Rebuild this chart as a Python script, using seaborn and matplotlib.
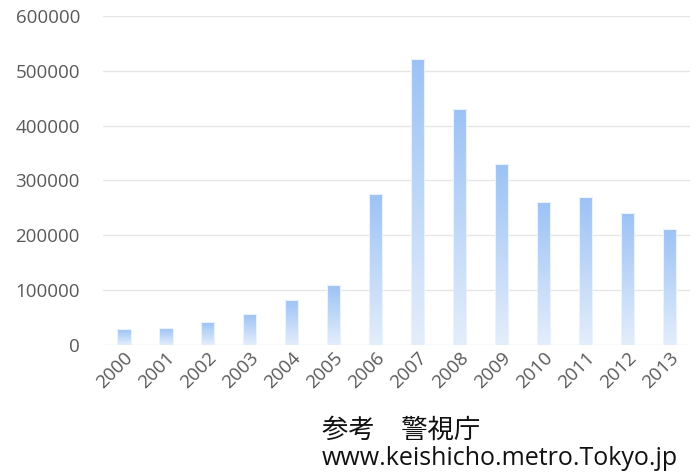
import numpy as np
import pandas as pd
import matplotlib
matplotlib.use("Agg")
import matplotlib.pyplot as plt
import seaborn as sns
from matplotlib.colors import LinearSegmentedColormap

years = ["2000", "2001", "2002", "2003", "2004", "2005", "2006",
         "2007", "2008", "2009", "2010", "2011", "2012", "2013"]
values = [29000, 31000, 41000, 56000, 82500, 109000, 276000,
          521000, 430000, 330000, 260000, 270000, 240000, 211000]
yticks = [0, 100000, 200000, 300000, 400000, 500000, 600000]
source_lines = ["参考　警視庁", "www.keishicho.metro.Tokyo.jp"]

sns.set_theme(style="white")
plt.rcParams['font.family'] = ['Open Sans', 'DejaVu Sans']

df = pd.DataFrame({"year": years, "value": values})

fig = plt.figure(figsize=(7, 4.73), dpi=100)
ax = fig.add_axes([0.147, 0.271, 0.839, 0.695])

sns.barplot(data=df, x="year", y="value", ax=ax, color="#9DC3F5",
            width=0.32, edgecolor="#EAF2FD", linewidth=0.8, zorder=2)

ax.set_ylim(0, 600000)
ax.set_xlim(-0.5, len(years) - 0.5)
ax.set_yticks(yticks)
ax.set_yticklabels([str(v) for v in yticks])
ax.yaxis.grid(True, color="#E6E6E6", linewidth=1.0, zorder=0)
ax.set_axisbelow(True)
for s in ax.spines.values():
    s.set_visible(False)
ax.set_xlabel("")
ax.set_ylabel("")
ax.tick_params(axis="y", labelsize=13.5, colors="#595959", length=0, pad=16.5)
ax.tick_params(axis="x", labelsize=13.5, colors="#595959", length=0, pad=3)
plt.setp(ax.get_xticklabels(), rotation=45, ha="right", rotation_mode="anchor")

# gradient fill inside each bar
cmap = LinearSegmentedColormap.from_list("g", ["#E4EEFB", "#9CC2F5"])
grad = np.linspace(0, 1, 256).reshape(-1, 1)
for p in ax.patches:
    x0, y0 = p.get_x(), p.get_y()
    w, h = p.get_width(), p.get_height()
    im = ax.imshow(grad, cmap=cmap, aspect="auto", origin="lower",
                   extent=[x0, x0 + w, y0, y0 + h], zorder=2.5)
    im.set_clip_path(p)
    p.set_facecolor("none")
    p.set_zorder(3)
ax.set_xlim(-0.5, len(years) - 0.5)
ax.set_ylim(0, 600000)

fig.text(0.46, 0.09, source_lines[0], fontsize=19, color="#111111",
         family=['Noto Sans CJK JP', 'DejaVu Sans'], ha="left", va="center")
fig.text(0.46, 0.03, source_lines[1], fontsize=18, color="#111111",
         family=['Open Sans', 'DejaVu Sans'], ha="left", va="center")

fig.savefig("out.png", dpi=100)
